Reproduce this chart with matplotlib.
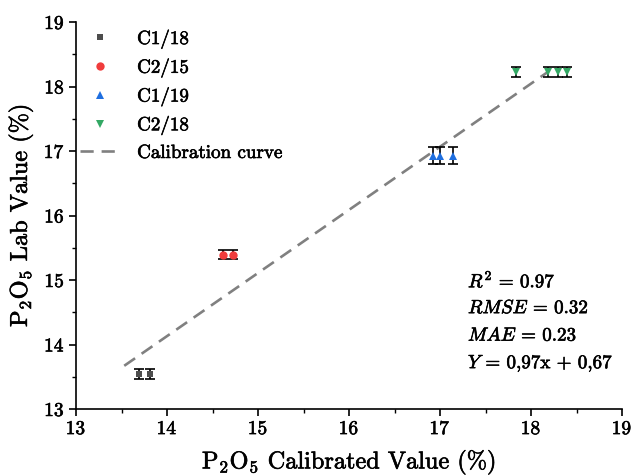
import matplotlib
matplotlib.use("Agg")
import matplotlib.pyplot as plt
import matplotlib.patheffects as pe

plt.rcParams['font.family'] = ['cmr10', 'DejaVu Serif']
plt.rcParams['mathtext.fontset'] = 'cm'
plt.rcParams['axes.formatter.use_mathtext'] = True

# Data
series_names = ["C1/18", "C2/15", "C1/19", "C2/18"]
c118_x = [13.69, 13.81]
c118_y = [13.54, 13.54]
c118_err = [0.08, 0.08]
c215_x = [14.61, 14.73]
c215_y = [15.39, 15.39]
c215_err = [0.07, 0.07]
c119_x = [16.92, 17.00, 17.14]
c119_y = [16.93, 16.93, 16.93]
c119_err = [0.13, 0.13, 0.13]
c218_x = [17.83, 18.19, 18.30, 18.40]
c218_y = [18.23, 18.23, 18.23, 18.23]
c218_err = [0.08, 0.08, 0.08, 0.08]
calib_x = [13.53, 18.19]
calib_y = [13.67, 18.23]
stats_text = [r'$R^2$ = 0.97', r'$RMSE$ = 0.32', r'$MAE$ = 0.23',
              r'$Y$ = 0,97x + 0,67']
ticks = [13, 14, 15, 16, 17, 18, 19]

thick = [pe.withStroke(linewidth=0.45, foreground='black')]

fig = plt.figure(figsize=(6.32, 4.77), dpi=100)
ax = fig.add_axes([76/632, 1-410/477, (622-76)/632, (410-23)/477])

series = [
    (c118_x, c118_y, c118_err, 's', '#4d4d4d', 5.0),
    (c215_x, c215_y, c215_err, 'o', '#f03c3c', 6.0),
    (c119_x, c119_y, c119_err, '^', '#1f6fe0', 6.0),
    (c218_x, c218_y, c218_err, 'v', '#33a864', 6.0),
]
handles = []
for (x, y, e, m, c, ms), name in zip(series, series_names):
    ax.errorbar(x, y, yerr=e, fmt='none', ecolor='black', elinewidth=1.2,
                capsize=3.8, capthick=1.2, zorder=2)
    h, = ax.plot(x, y, linestyle='none', marker=m, color=c, markersize=ms,
                 markeredgewidth=0, zorder=3, label=name)
    handles.append(h)

hl, = ax.plot(calib_x, calib_y, color='#808080', linewidth=1.9,
              dashes=(5, 3), zorder=1, label='Calibration curve')
handles.append(hl)

ax.set_xlim(13, 19)
ax.set_ylim(13, 19)
ax.set_xticks(ticks)
ax.set_yticks(ticks)
ax.set_xticks([t + 0.5 for t in ticks[:-1]], minor=True)
ax.set_yticks([t + 0.5 for t in ticks[:-1]], minor=True)
for s in ['top', 'right']:
    ax.spines[s].set_visible(False)
for s in ['left', 'bottom']:
    ax.spines[s].set_linewidth(1.2)
ax.tick_params(which='major', direction='out', length=5, width=1.2, labelsize=14, pad=3)
ax.tick_params(which='minor', direction='out', length=3, width=1.0)
for lab in ax.get_xticklabels() + ax.get_yticklabels():
    lab.set_path_effects(thick)

xl = ax.set_xlabel(r'P$_2$O$_5$ Calibrated Value (%)', fontsize=17.5, labelpad=7)
yl = ax.set_ylabel(r'P$_2$O$_5$ Lab Value (%)', fontsize=17.5, labelpad=6)
xl.set_path_effects(thick)
yl.set_path_effects(thick)

leg = ax.legend(handles=handles, loc='upper left', frameon=False, fontsize=13.7,
                handlelength=2.1, handletextpad=0.9, labelspacing=0.46,
                bbox_to_anchor=(4/546, 1.0 - 7/387), borderaxespad=0.0, borderpad=0.0)
for t in leg.get_texts():
    t.set_path_effects(thick)

for i, t in enumerate(stats_text):
    txt = fig.text(468/632, 1 - (281.7 + 27.5*i)/477, t, fontsize=13.7,
                   va='center', ha='left')
    txt.set_path_effects(thick)

fig.savefig('out.png', dpi=100)
